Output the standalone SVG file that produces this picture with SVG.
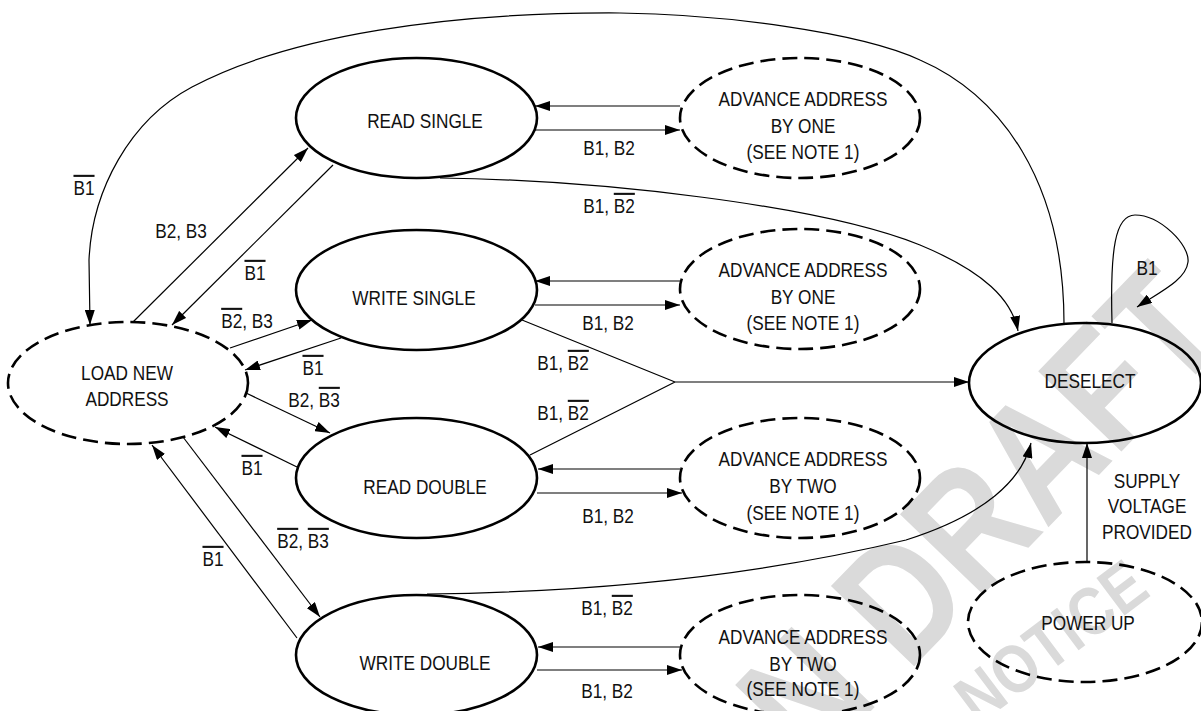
<svg xmlns="http://www.w3.org/2000/svg" width="1201" height="711" viewBox="0 0 1201 711">
<style>
.t{font-family:"Liberation Sans Narrow","Arial Narrow","Liberation Sans",Arial,sans-serif;font-size:21px;fill:#111;text-anchor:middle}
.ob{text-decoration:overline}
.node{fill:none;stroke:#000;stroke-width:2.6}
.dash{stroke-dasharray:15 7}
.c{fill:none;stroke:#000;stroke-width:1.2}
.wm{font-family:"Liberation Sans",Arial,sans-serif;font-weight:bold;fill:#dadada}
</style>
<defs>
<marker id="ah" viewBox="0 0 15 10" refX="15" refY="5" markerWidth="15" markerHeight="10" markerUnits="userSpaceOnUse" orient="auto"><path d="M0,0 L15,5 L0,10 z" fill="#000"/></marker>
</defs>
<rect width="1201" height="711" fill="#fff"/>
<g id="watermark">
<text class="wm" font-size="168" transform="translate(812,772) rotate(-46) scale(0.82,1)">N DRAFT</text>
<text class="wm" font-size="68" transform="translate(978,726) rotate(-37) scale(0.85,1)">NOTICE</text>
</g>
<g id="connectors">
<path class="c" marker-end="url(#ah)" d="M1064,323 C1064,180 1000,95 920,60 C860,32 720,14 620,13 C450,12 290,35 192,87 C130,120 92,190 89,260 L90,325"/>
<path class="c" marker-end="url(#ah)" d="M440,178 C600,180 820,205 920,245 C985,272 1012,300 1018,331"/>
<path class="c" marker-end="url(#ah)" d="M427,594 C600,592 760,575 906,540 C985,515 1022,480 1031,443"/>
<path class="c" marker-end="url(#ah)" d="M1112,323 C1110,250 1115,215 1135,215 C1160,215 1190,245 1188,262 C1186,280 1160,292 1137,307"/>
<path class="c" marker-end="url(#ah)" d="M133,322 L308,148"/>
<path class="c" marker-end="url(#ah)" d="M333,165 L172,325"/>
<path class="c" marker-end="url(#ah)" d="M230,348 L312,320"/>
<path class="c" marker-end="url(#ah)" d="M341,338 L245,370"/>
<path class="c" marker-end="url(#ah)" d="M246,393 L330,433"/>
<path class="c" marker-end="url(#ah)" d="M297,467 L215,427"/>
<path class="c" marker-end="url(#ah)" d="M183,437 L320,617"/>
<path class="c" marker-end="url(#ah)" d="M297,638 L152,445"/>
<path class="c" marker-end="url(#ah)" d="M680,106 L535,106"/>
<path class="c" marker-end="url(#ah)" d="M535,130 L680,130"/>
<path class="c" marker-end="url(#ah)" d="M680,281 L535,281"/>
<path class="c" marker-end="url(#ah)" d="M535,305 L680,305"/>
<path class="c" marker-end="url(#ah)" d="M680,469 L538,469"/>
<path class="c" marker-end="url(#ah)" d="M537,493 L682,493"/>
<path class="c" marker-end="url(#ah)" d="M680,647 L538,647"/>
<path class="c" marker-end="url(#ah)" d="M537,670 L682,670"/>
<path class="c" d="M522,320 L675,382 M530,455 L675,382"/>
<path class="c" marker-end="url(#ah)" d="M675,382 L969,382"/>
<path class="c" marker-end="url(#ah)" d="M1087,562 L1087,443"/>
<text class="t" transform="translate(84,194.5) scale(0.82,1)"><tspan class="ob">B1</tspan></text>
<text class="t" transform="translate(181,237.5) scale(0.82,1)">B2, B3</text>
<text class="t" transform="translate(255,279.5) scale(0.82,1)"><tspan class="ob">B1</tspan></text>
<text class="t" transform="translate(247,327.5) scale(0.82,1)"><tspan class="ob">B2</tspan>, B3</text>
<text class="t" transform="translate(313,374.5) scale(0.82,1)"><tspan class="ob">B1</tspan></text>
<text class="t" transform="translate(314,406.5) scale(0.82,1)">B2, <tspan class="ob">B3</tspan></text>
<text class="t" transform="translate(252,474.5) scale(0.82,1)"><tspan class="ob">B1</tspan></text>
<text class="t" transform="translate(303,547.5) scale(0.82,1)"><tspan class="ob">B2</tspan>, <tspan class="ob">B3</tspan></text>
<text class="t" transform="translate(213,565.5) scale(0.82,1)"><tspan class="ob">B1</tspan></text>
<text class="t" transform="translate(609,154.5) scale(0.82,1)">B1, B2</text>
<text class="t" transform="translate(609,212.5) scale(0.82,1)">B1, <tspan class="ob">B2</tspan></text>
<text class="t" transform="translate(608,329.5) scale(0.82,1)">B1, B2</text>
<text class="t" transform="translate(563,369.5) scale(0.82,1)">B1, <tspan class="ob">B2</tspan></text>
<text class="t" transform="translate(563,419.5) scale(0.82,1)">B1, <tspan class="ob">B2</tspan></text>
<text class="t" transform="translate(608,522.5) scale(0.82,1)">B1, B2</text>
<text class="t" transform="translate(607,614.5) scale(0.82,1)">B1, <tspan class="ob">B2</tspan></text>
<text class="t" transform="translate(607,697.5) scale(0.82,1)">B1, B2</text>
<text class="t" transform="translate(1147,274.5) scale(0.82,1)">B1</text>
<text class="t" transform="translate(1147,487.5) scale(0.82,1)">SUPPLY</text>
<text class="t" transform="translate(1147,513) scale(0.82,1)">VOLTAGE</text>
<text class="t" transform="translate(1147,539) scale(0.82,1)">PROVIDED</text>
</g>
<g id="load-new-address">
<ellipse class="node dash" cx="128" cy="383" rx="120" ry="61"/>
<text class="t" transform="translate(127,379.5) scale(0.82,1)">LOAD NEW</text>
<text class="t" transform="translate(127,405.5) scale(0.82,1)">ADDRESS</text>
</g>
<g id="read-single">
<ellipse class="node" cx="416.5" cy="118" rx="120.5" ry="60"/>
<text class="t" transform="translate(425,127.5) scale(0.82,1)">READ SINGLE</text>
</g>
<g id="write-single">
<ellipse class="node" cx="416.5" cy="290" rx="120.5" ry="60"/>
<text class="t" transform="translate(414,304.5) scale(0.82,1)">WRITE SINGLE</text>
</g>
<g id="read-double">
<ellipse class="node" cx="416.5" cy="478" rx="120.5" ry="60"/>
<text class="t" transform="translate(425,493.5) scale(0.82,1)">READ DOUBLE</text>
</g>
<g id="write-double">
<ellipse class="node" cx="416.5" cy="655" rx="120.5" ry="60"/>
<text class="t" transform="translate(425,669.5) scale(0.82,1)">WRITE DOUBLE</text>
</g>
<g id="advance-one-a">
<ellipse class="node dash" cx="800" cy="118" rx="120" ry="60"/>
<text class="t" transform="translate(803,105.5) scale(0.82,1)">ADVANCE ADDRESS</text>
<text class="t" transform="translate(803,132.5) scale(0.82,1)">BY ONE</text>
<text class="t" transform="translate(803,158.5) scale(0.82,1)">(SEE NOTE 1)</text>
</g>
<g id="advance-one-b">
<ellipse class="node dash" cx="800" cy="289" rx="120" ry="60"/>
<text class="t" transform="translate(803,276.5) scale(0.82,1)">ADVANCE ADDRESS</text>
<text class="t" transform="translate(803,303.5) scale(0.82,1)">BY ONE</text>
<text class="t" transform="translate(803,329.5) scale(0.82,1)">(SEE NOTE 1)</text>
</g>
<g id="advance-two-a">
<ellipse class="node dash" cx="800" cy="478" rx="120" ry="60"/>
<text class="t" transform="translate(803,465.5) scale(0.82,1)">ADVANCE ADDRESS</text>
<text class="t" transform="translate(803,492.5) scale(0.82,1)">BY TWO</text>
<text class="t" transform="translate(803,519.5) scale(0.82,1)">(SEE NOTE 1)</text>
</g>
<g id="advance-two-b">
<ellipse class="node dash" cx="800" cy="655" rx="120" ry="60"/>
<text class="t" transform="translate(803,643.5) scale(0.82,1)">ADVANCE ADDRESS</text>
<text class="t" transform="translate(803,670.5) scale(0.82,1)">BY TWO</text>
<text class="t" transform="translate(803,695.5) scale(0.82,1)">(SEE NOTE 1)</text>
</g>
<g id="deselect">
<ellipse class="node" cx="1085" cy="383" rx="116" ry="60"/>
<text class="t" transform="translate(1090,387.5) scale(0.82,1)">DESELECT</text>
</g>
<g id="power-up">
<ellipse class="node dash" cx="1085" cy="622" rx="117" ry="60"/>
<text class="t" transform="translate(1088,629.5) scale(0.82,1)">POWER UP</text>
</g>
</svg>
